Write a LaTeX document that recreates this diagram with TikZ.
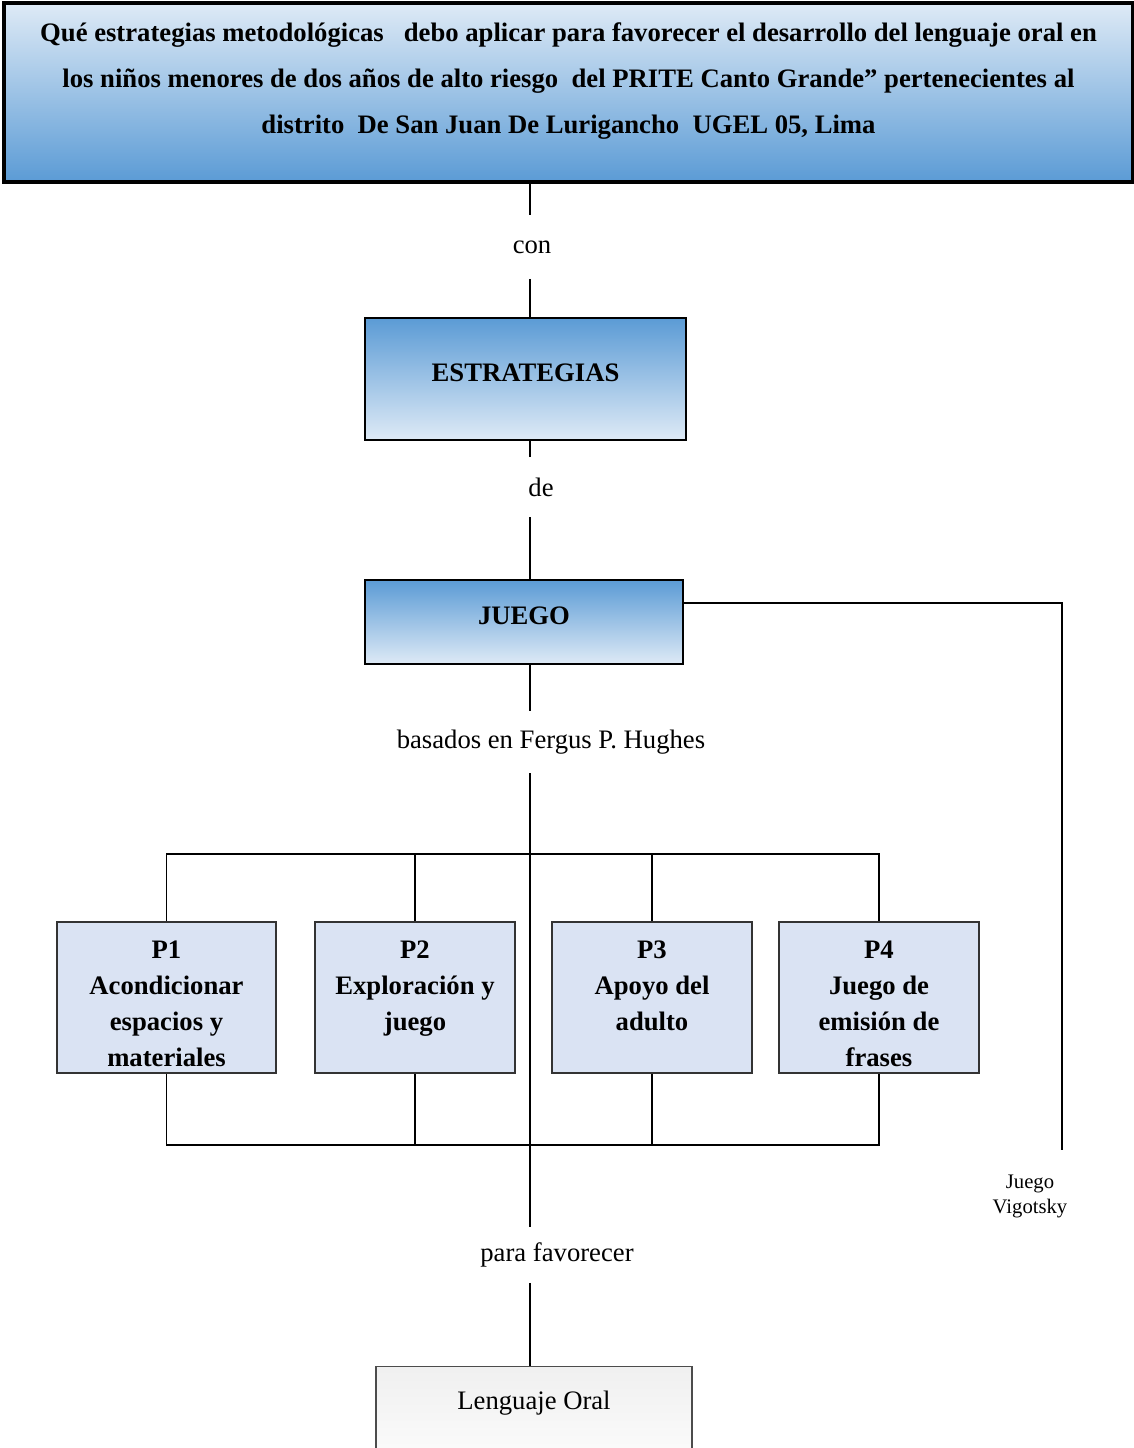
\documentclass[tikz,border=0pt]{standalone}
\usepackage{fontspec}
\setmainfont{Liberation Serif}
\definecolor{azul}{RGB}{91,155,213}
\definecolor{claro}{RGB}{222,234,246}
\definecolor{pasofill}{RGB}{218,227,243}
\begin{document}
\begin{tikzpicture}[x=0.75pt, y=-0.75pt, line width=1.2pt,
	every node/.style={font=\fontsize{20}{24}\selectfont},
	head/.style={draw, line width=3pt, top color=claro, bottom color=azul, minimum width=846.75pt, minimum height=134.25pt, align=center, font=\fontsize{20}{34.5}\selectfont\bfseries, text height=86pt, text depth=24.5pt},
	grad/.style={draw, line width=1.8pt, top color=azul, bottom color=claro, font=\fontsize{20}{24}\selectfont\bfseries, text depth=9pt},
	paso/.style={draw=black!80, line width=1.2pt, fill=pasofill, inner sep=0pt, minimum width=150pt, minimum height=113.25pt, align=center, font=\fontsize{20}{26.8}\selectfont\bfseries, text height=106pt, text depth=3pt},
	corto/.style={text height=79pt, text depth=29.6pt},
	enlace/.style={inner sep=0pt, minimum height=44pt}]
	\useasboundingbox (0,0) rectangle (1134,1448);
	\clip (0,0) rectangle (1134,1448);
	\coordinate (eje) at (530,0);
	\coordinate (busarriba) at (0,854);
	\coordinate (busabajo) at (0,1145);
	\coordinate (vigfin) at (1062,1150);

	\node[head] (pregunta) at (568.5,92.5) {Qué estrategias metodológicas\ \ \ debo aplicar para favorecer el desarrollo del lenguaje oral en\\los niños menores de dos años de alto riesgo\ \ del PRITE Canto Grande” pertenecientes al\\distrito\ \ De San Juan De Lurigancho\ \ UGEL 05, Lima};
	\node[enlace, minimum height=46.5pt] (con) at (532,247) {con};
	\node[grad, minimum width=240.75pt, minimum height=91.5pt] (estrategias) at (525.5,379) {ESTRATEGIAS};
	\node[enlace] (de) at (541,487) {de};
	\node[grad, minimum width=238.5pt, minimum height=63pt] (juego) at (524,622) {JUEGO};
	\node[enlace, minimum height=45.75pt] (hughes) at (551,742) {basados en Fergus P. Hughes};
	\node[paso, minimum width=164.25pt] (p1) at (166.5,997.5) {P1\\Acondicionar\\espacios y\\materiales};
	\node[paso, corto] (p2) at (415,997.5) {P2\\Exploración y\\juego};
	\node[paso, corto] (p3) at (652,997.5) {P3\\Apoyo del\\adulto};
	\node[paso] (p4) at (879,997.5) {P4\\Juego de\\emisión de\\frases};
	\node[enlace, minimum height=40.5pt] (favorecer) at (557,1255) {para favorecer};
	\node[draw=black!70, line width=1pt, top color=gray!12, bottom color=white, minimum width=237pt, minimum height=90pt, anchor=north, text depth=40pt] (oral) at (534,1366) {Lenguaje Oral};
	\node[align=center, font=\fontsize{15.5}{18.75}\selectfont] (vigotsky) at (1030,1196) {Juego\\Vigotsky};

	\draw (eje |- pregunta.south) -- (eje |- con.north);
	\draw (eje |- con.south) -- (eje |- estrategias.north);
	\draw (eje |- estrategias.south) -- (eje |- de.north);
	\draw (eje |- de.south) -- (eje |- juego.north);
	\draw (eje |- juego.south) -- (eje |- hughes.north);
	\draw (eje |- hughes.south) -- (eje |- favorecer.north);
	\draw (eje |- favorecer.south) -- (eje |- oral.north);
	\draw (p1.north) |- (busarriba -| p4.north) -- (p4.north);
	\draw (p2.north) -- (p2.north |- busarriba);
	\draw (p3.north) -- (p3.north |- busarriba);
	\draw (p1.south) |- (busabajo -| p4.south) -- (p4.south);
	\draw (p2.south) -- (p2.south |- busabajo);
	\draw (p3.south) -- (p3.south |- busabajo);
	\draw ([yshift=14.25pt]juego.east) -| (vigfin);
\end{tikzpicture}
\end{document}
